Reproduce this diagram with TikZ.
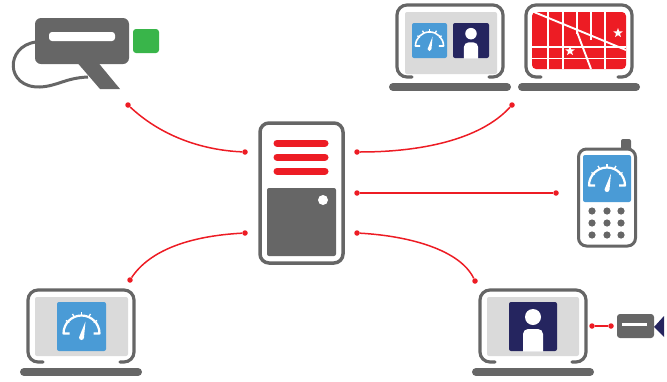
\documentclass[tikz,border=0pt]{standalone}
\usepackage{tikz}
\usetikzlibrary{shapes.geometric,positioning}
\definecolor{devgray}{HTML}{666666}
\definecolor{devred}{HTML}{ED1C24}
\definecolor{devblue}{HTML}{4A9BD6}
\definecolor{devnavy}{HTML}{25255F}
\definecolor{devgreen}{HTML}{39B54A}
\definecolor{devlight}{HTML}{DADADA}
\tikzset{
	box/.style={
		rectangle,
		inner sep=0pt,
		rounded corners=2pt
	},
	panel/.style={box, fill=devlight},
	dial/.style={box, fill=devblue},
	badge/.style={box, fill=devnavy},
	dot/.style={
		circle,
		fill=devred,
		inner sep=0pt,
		minimum size=5.5pt
	},
	link/.style={
		draw=devred,
		line width=1.5pt
	},
	bar/.style={
		line width=7pt,
		line cap=round,
		draw=devred
	},
	outline/.style={
		draw=devgray,
		line width=3.2pt,
		line cap=round,
		rounded corners=10pt
	},
	mapstar/.style={
		star,
		star points=5,
		star point ratio=2.4,
		fill=white,
		inner sep=0pt,
		minimum size=10pt
	},
	pics/laptop/.style={
		code={
			\draw[outline] (15,72) -- (0,72) -- (0,0) -- (106,0) -- (106,72) -- (92,72);
			\draw[draw=devgray, line width=8pt, line cap=round] (-4,82) -- (110,82);
		}
	},
	pics/gauge/.style={
		code={
			\draw[white, line join=round] (-12,7) -- (-18,7) arc[start angle=180, end angle=360, radius=18] -- (12,7);
			\foreach \a in {210,240,270,300,330}
				\draw[white, line width=1.3pt] (\a:14) ++(0,3) -- ++(\a:4);
			\fill[white] (-2.5,11) -- (4,-5) -- (2.5,11) arc[start angle=0, end angle=180, radius=2.5];
		}
	},
	pics/person/.style={
		code={
			\fill[white] (0,-9.5) circle (8);
			\fill[white] (-10,25) [rounded corners=5pt] -- (-10,2.5) -- (10,2.5) [sharp corners] -- (10,25) -- cycle;
		}
	}
}
\begin{document}
\begin{tikzpicture}[x=1pt, y=-1pt]
	\useasboundingbox (0,0) rectangle (667,381);
	% Server
	\node[box, draw=devgray, line width=3.5pt, rounded corners=9pt, minimum width=83pt, minimum height=140pt] (server) at (301.5,193) {};
	\draw[bar] (277,143) -- (325,143);
	\draw[bar] (277,157) -- (325,157);
	\draw[bar] (277,171) -- (325,171);
	\node[box, fill=devgray, minimum width=69pt, minimum height=68pt] (drive) at (301.5,222) {};
	\node[circle, fill=white, inner sep=0pt, minimum size=10pt] (led) at (323,200) {};
	% Camera
	\node[box, fill=devgreen, rounded corners=3pt, minimum width=26pt, minimum height=24pt] (lens) at (146,41) {};
	\draw[devgray, line width=3pt] (36,42) .. controls (5,46) and (5,88) .. (40,87) .. controls (58,86) and (65,78) .. (88,77);
	\fill[devgray] (75,60) -- (96,60) -- (120,89) -- (100,89) -- cycle;
	\node[box, fill=devgray, rounded corners=6pt, minimum width=94pt, minimum height=46pt] (camera) at (82,41) {};
	\node[box, fill=white, rounded corners=3pt, minimum width=66pt, minimum height=9pt] (slot) at (82,36.5) {};
	% Laptop with dial and person
	\pic (lapboth) at (397,5) {laptop};
	\node[panel, minimum width=92pt, minimum height=62pt] (bothscreen) at (451,43) {};
	\node[dial, minimum width=35pt, minimum height=35pt] (bothdial) at (429.5,40.5) {};
	\node[badge, minimum width=36pt, minimum height=35pt] (bothbadge) at (471,40.5) {};
	\pic[scale=0.78, line width=1.6pt] at (bothdial.center) {gauge};
	\pic[scale=0.72] at (bothbadge.center) {person};
	% Laptop with map
	\pic (lapmap) at (526,5) {laptop};
	\node[box, fill=devred, rounded corners=4pt, minimum width=94pt, minimum height=57pt] (map) at (579,40.5) {};
	\begin{scope}[white, line width=1.6pt]
		\foreach \x in {548,563,605}
			\draw (\x,12) -- (\x,69);
		\draw (577,12) -- (577,34);
		\draw (591,12) -- (591,40);
		\draw (532,47) -- (626,47);
		\draw (532,58.5) -- (626,58.5);
		\draw[line width=1.9pt] (534,12) -- (626,50);
		\draw[line width=1.9pt] (577,32) -- (591,69);
	\end{scope}
	\node[mapstar] (stara) at (570,51) {};
	\node[mapstar] (starb) at (618,33) {};
	% Phone
	\fill[devgray, rounded corners=2pt] (621,139) rectangle (631,152);
	\node[box, fill=white, draw=devgray, line width=3pt, rounded corners=8pt, minimum width=57pt, minimum height=97pt] (phone) at (607,197.5) {};
	\node[dial, minimum width=48pt, minimum height=47pt] (phonedial) at (607,178.5) {};
	\pic[line width=2.2pt] at (phonedial.center) {gauge};
	\foreach \y in {211,223,235}
		\foreach \x in {592,607,621}
			\fill[devgray] (\x,\y) circle (3.6);
	% Laptop with dial
	\pic (lapdial) at (28,290) {laptop};
	\node[panel, minimum width=93pt, minimum height=59pt] (dialscreen) at (81.5,326.5) {};
	\node[dial, minimum width=49pt, minimum height=49pt] (dialpanel) at (81.5,326.5) {};
	\pic[line width=2.2pt] at (dialpanel.center) {gauge};
	% Laptop with person
	\pic (lapperson) at (480,290) {laptop};
	\node[panel, minimum width=92pt, minimum height=59pt] (personscreen) at (533,326.5) {};
	\node[badge, minimum width=48pt, minimum height=49pt] (personbadge) at (533,326.5) {};
	\pic at (personbadge.center) {person};
	% Small camera
	\fill[devnavy] (654,327) -- (664,316) -- (664,337) -- cycle;
	\node[box, fill=devgray, rounded corners=3pt, minimum width=37pt, minimum height=24pt] (minicam) at (635.5,326) {};
	\node[box, fill=white, rounded corners=0pt, minimum width=25pt, minimum height=3pt] (minislot) at (634.5,324.5) {};
	% Connection ends
	\node[dot] (camend) at (128,105) {};
	\node[dot] (srvcam) at (245,152) {};
	\node[dot] (srvlap) at (357,152) {};
	\node[dot] (lapend) at (512,105) {};
	\node[dot] (srvphone) at (357,193) {};
	\node[dot] (phoneend) at (556,193) {};
	\node[dot] (srvdial) at (245,233) {};
	\node[dot] (dialend) at (130,280) {};
	\node[dot] (srvperson) at (357,233) {};
	\node[dot] (personend) at (475,281) {};
	\node[dot] (lapcam) at (592,326) {};
	\node[dot] (camlap) at (611,326) {};
	% Connections
	\draw[link] (camend) .. controls (160,135) and (200,150) .. (srvcam);
	\draw[link] (srvlap) .. controls (420,152) and (480,140) .. (lapend);
	\draw[link] (srvphone) -- (phoneend);
	\draw[link] (srvdial) .. controls (190,236) and (150,250) .. (dialend);
	\draw[link] (srvperson) .. controls (410,236) and (460,250) .. (personend);
	\draw[link] (lapcam) -- (camlap);
\end{tikzpicture}
\end{document}
